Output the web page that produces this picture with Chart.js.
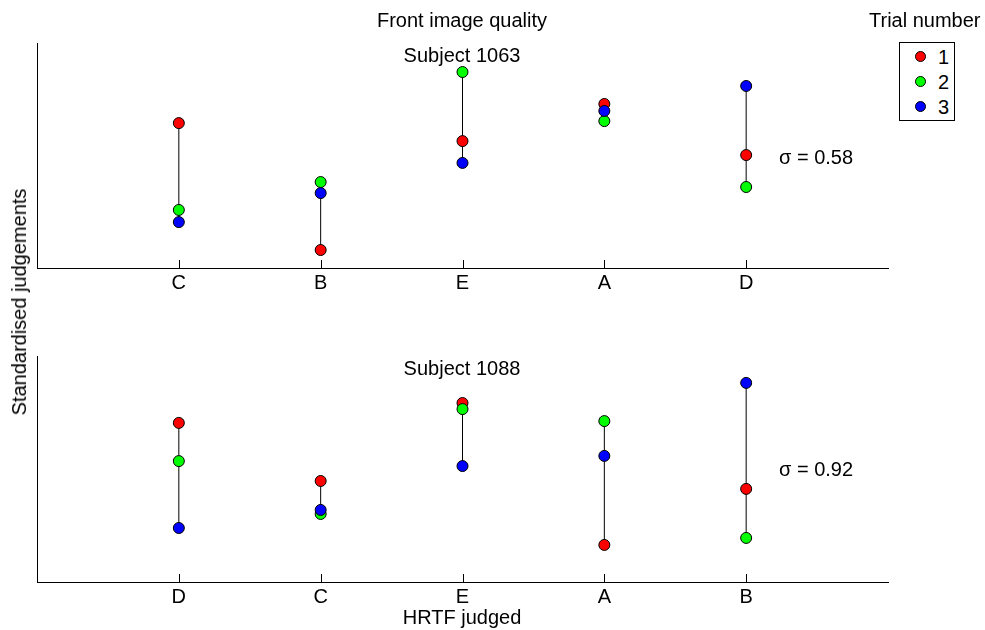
<!DOCTYPE html>
<html>
<head>
<meta charset="utf-8">
<script src="https://cdn.jsdelivr.net/npm/chart.js@4.4.0/dist/chart.umd.min.js"></script>
<style>
  html, body { margin: 0; padding: 0; background: #fff; }
  body { width: 985px; height: 630px; position: relative; overflow: hidden;
         font-family: "Liberation Sans", Arial, Helvetica, sans-serif; color: #000; }
  .panel { position: absolute; left: 0; width: 985px; height: 315px; }
  .txt { position: absolute; font-size: 20px; line-height: 20px; white-space: nowrap; }
  .legend { position: absolute; left: 899px; top: 42px; width: 54px; height: 77px; border: 1px solid #000; background: #fff; }
  .legend .row { position: absolute; left: 0; height: 20px; width: 54px; }
  .legend .dot { position: absolute; left: 15px; top: 4px; width: 11px; height: 11px; border-radius: 50%; border: 1px solid #000; box-sizing: border-box; }
  .legend .lab { position: absolute; left: 38px; top: 0; font-size: 20px; line-height: 20px; }
</style>
</head>
<body>
<div class="panel" style="top:0"><canvas id="c1" width="985" height="315"></canvas></div>
<div class="panel" style="top:315px"><canvas id="c2" width="985" height="315"></canvas></div>

<div class="txt" style="left:462px; top:10px; transform:translateX(-50%)">Front image quality</div>
<div class="txt" style="left:869px; top:10px;">Trial number</div>
<div class="txt" style="left:462px; top:45px; transform:translateX(-50%)">Subject 1063</div>
<div class="txt" style="left:462px; top:358px; transform:translateX(-50%)">Subject 1088</div>
<div class="txt" style="left:779px; top:147px;">σ = 0.58</div>
<div class="txt" style="left:779px; top:459px;">σ = 0.92</div>
<div class="txt" style="left:462px; top:607px; transform:translateX(-50%)">HRTF judged</div>
<div class="txt" style="left:19px; top:302px; transform:translate(-50%,-50%) rotate(-90deg)">Standardised judgements</div>

<div class="legend">
  <div class="row" style="top:4px"><div class="dot" style="background:#ff0000"></div><div class="lab">1</div></div>
  <div class="row" style="top:29px"><div class="dot" style="background:#00ff00"></div><div class="lab">2</div></div>
  <div class="row" style="top:54px"><div class="dot" style="background:#0000ff"></div><div class="lab">3</div></div>
</div>

<script>
// ---- Data ----
const catsTop = ['C', 'B', 'E', 'A', 'D'];
const topTrial1 = [6.44, 0.80, 5.64, 7.29, 5.02];
const topTrial2 = [2.58, 3.82, 8.71, 6.53, 3.60];
const topTrial3 = [2.04, 3.33, 4.67, 6.98, 8.09];

const catsBottom = ['D', 'C', 'E', 'A', 'B'];
const botTrial1 = [7.04, 4.47, 7.92, 1.64, 4.12];
const botTrial2 = [5.35, 3.01, 7.65, 7.12, 1.95];
const botTrial3 = [2.39, 3.19, 5.13, 5.58, 8.81];

const trialColors = ['#ff0000', '#00ff00', '#0000ff'];
const trialLabels = ['1', '2', '3'];

const FONT = '"Liberation Sans", Arial, Helvetica, sans-serif';

const innerTicks = {
  id: 'innerTicks',
  afterDraw(chart) {
    const xs = chart.scales.x;
    const ctx = chart.ctx;
    const bottom = chart.chartArea.bottom;
    ctx.save();
    ctx.strokeStyle = '#000';
    ctx.lineWidth = 1;
    xs.ticks.forEach(t => {
      const px = Math.round(xs.getPixelForValue(t.value)) + 0.5;
      ctx.beginPath();
      ctx.moveTo(px, bottom);
      ctx.lineTo(px, bottom - 8);
      ctx.stroke();
    });
    ctx.restore();
  }
};

function makeChart(id, cats, series, padTop, padBottom) {
  const rangeData = [];
  cats.forEach((c, i) => {
    const vals = series.map(s => s[i]);
    rangeData.push({ x: i + 1, y: Math.min(...vals) });
    rangeData.push({ x: i + 1, y: Math.max(...vals) });
    rangeData.push({ x: i + 1, y: null });
  });
  const datasets = [{
    type: 'line',
    data: rangeData,
    borderColor: '#000',
    borderWidth: 1,
    pointRadius: 0,
    spanGaps: false,
    fill: false,
    order: 4
  }];
  series.forEach((s, k) => {
    datasets.push({
      type: 'scatter',
      label: trialLabels[k],
      data: s.map((v, i) => ({ x: i + 1, y: v })),
      backgroundColor: trialColors[k],
      borderColor: '#000',
      borderWidth: 1,
      pointRadius: 5.5,
      order: 3 - k
    });
  });
  return new Chart(document.getElementById(id), {
    type: 'scatter',
    data: { datasets },
    options: {
      responsive: false,
      animation: false,
      layout: { padding: { top: padTop, bottom: padBottom, left: 37, right: 97 } },
      plugins: { legend: { display: false }, tooltip: { enabled: false } },
      scales: {
        x: {
          type: 'linear', min: 0, max: 6,
          afterBuildTicks(scale) { scale.ticks = cats.map((c, i) => ({ value: i + 1 })); },
          afterFit(scale) { scale.height = 30; },
          grid: { display: false },
          border: { display: true, color: '#000', width: 1 },
          ticks: {
            autoSkip: false, maxRotation: 0, padding: -5, color: '#000',
            font: { family: FONT, size: 20 },
            callback: (v) => cats[Math.round(v) - 1] || ''
          }
        },
        y: {
          type: 'linear', min: 0, max: 10,
          afterFit(scale) { scale.width = 0; },
          grid: { display: false },
          border: { display: true, color: '#000', width: 1 },
          ticks: { display: false }
        }
      }
    },
    plugins: [innerTicks]
  });
}

makeChart('c1', catsTop, [topTrial1, topTrial2, topTrial3], 43, 17);
makeChart('c2', catsBottom, [botTrial1, botTrial2, botTrial3], 41, 18);
</script>
</body>
</html>
